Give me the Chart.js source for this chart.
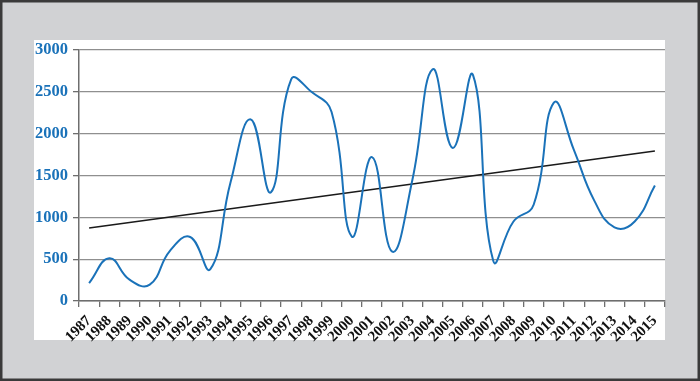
<!DOCTYPE html>
<html>
<head>
<meta charset="utf-8">
<script src="https://cdn.jsdelivr.net/npm/chart.js@4/dist/chart.umd.min.js"></script>
<style>
  html, body { margin: 0; padding: 0; background: #d1d2d4; }
  #wrap { position: relative; width: 700px; height: 381px; }
</style>
</head>
<body>
<div id="wrap"><canvas id="chart" width="700" height="381"></canvas></div>
<script>
const years = ['1987', '1988', '1989', '1990', '1991', '1992', '1993', '1994', '1995', '1996',
  '1997', '1998', '1999', '2000', '2001', '2002', '2003', '2004', '2005', '2006',
  '2007', '2008', '2009', '2010', '2011', '2012', '2013', '2014', '2015'];

const values = [215, 510, 255, 195, 600, 765, 380, 1420, 2170, 1300,
  2650, 2500, 2260, 770, 1720, 590, 1450, 2770, 1830, 2700,
  480, 950, 1150, 2370, 1800, 1200, 880, 950, 1380];

// trend line end points
const trend_start = 872;
const trend_end = 1793;

const BLUE = '#1a72b9';
const AXIS = '#6e6e6e';
const GRID = '#8f8f8f';

// frame: dark outline, grey surround, white panel
const frame = {
  id: 'frame',
  beforeDraw(chart) {
    const ctx = chart.ctx;
    ctx.save();
    ctx.fillStyle = '#d1d2d4';
    ctx.fillRect(0, 0, chart.width, chart.height);
    ctx.strokeStyle = '#3a3a3a';
    ctx.lineWidth = 2.5;
    ctx.strokeRect(1.25, 1.25, chart.width - 2.5, chart.height - 2.5);
    ctx.fillStyle = '#ffffff';
    ctx.fillRect(34, 40, 631, 300);
    ctx.restore();
  }
};

new Chart(document.getElementById('chart'), {
  type: 'line',
  data: {
    labels: years,
    datasets: [{
      data: values,
      borderColor: BLUE,
      borderWidth: 2,
      pointRadius: 0,
      tension: 0.45,
      fill: false
    }, {
      data: [{x: years[0], y: trend_start}, {x: years[years.length - 1], y: trend_end}],
      borderColor: '#1a1a1a',
      borderWidth: 1.6,
      pointRadius: 0,
      tension: 0,
      fill: false
    }]
  },
  options: {
    responsive: false,
    animation: false,
    layout: {
      padding: {left: 34, top: 50, right: 35, bottom: 0}
    },
    plugins: {
      legend: {display: false},
      tooltip: {enabled: false}
    },
    scales: {
      x: {
        offset: true,
        afterFit: scale => { scale.height = 80; },
        grid: {
          offset: true,
          drawOnChartArea: false,
          color: AXIS,
          lineWidth: 1.3,
          tickLength: 6
        },
        border: {color: AXIS, width: 1.5},
        ticks: {
          autoSkip: false,
          minRotation: 45,
          maxRotation: 45,
          padding: 5,
          color: '#111111',
          font: {family: '"Liberation Serif", serif', size: 15, weight: 'bold'}
        }
      },
      y: {
        min: 0,
        max: 3000,
        afterFit: scale => { scale.width = 45; },
        grid: {
          color: GRID,
          lineWidth: 1.3,
          tickLength: 6,
          tickColor: AXIS
        },
        border: {color: AXIS, width: 1.5},
        ticks: {
          stepSize: 500,
          padding: 5,
          color: BLUE,
          callback: v => String(v),
          font: {family: '"Liberation Serif", serif', size: 16.5, weight: 'bold'}
        }
      }
    }
  },
  plugins: [frame]
});
</script>
</body>
</html>
